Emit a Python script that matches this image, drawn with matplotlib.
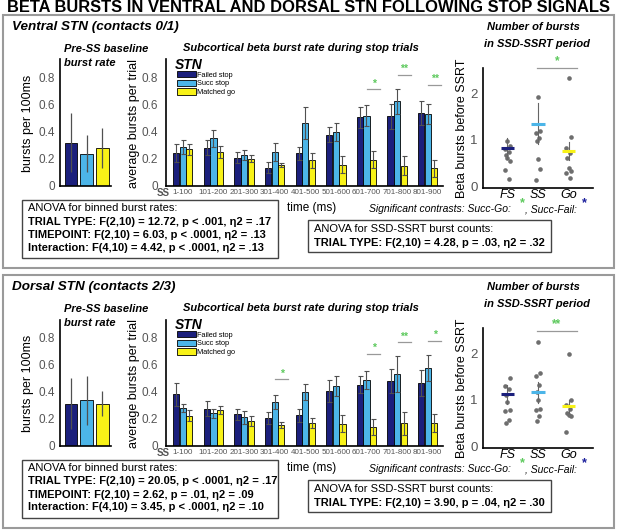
import numpy as np
import matplotlib.pyplot as plt
from matplotlib.patches import Rectangle, Patch

plt.rcParams['font.family'] = ['Liberation Sans', 'DejaVu Sans']

W, H = 617, 530

# ---- data ----
bins = ['1-100', '101-200', '201-300', '301-400', '401-500',
        '501-600', '601-700', '701-800', '801-900']
conds = ['Failed stop', 'Succ stop', 'Matched go']
cond_colors = ['#1b1f7c', '#4cb5e8', '#f8f217']
dot_labels = ['FS', 'SS', 'Go']

# ventral STN
v_base = [0.317, 0.234, 0.278]
v_base_err = [0.217, 0.136, 0.149]
v_fs = [0.243, 0.280, 0.206, 0.131, 0.238, 0.374, 0.503, 0.511, 0.538]
v_fs_err = [0.067, 0.057, 0.042, 0.040, 0.047, 0.055, 0.075, 0.092, 0.089]
v_ss = [0.285, 0.347, 0.223, 0.250, 0.461, 0.394, 0.516, 0.622, 0.528]
v_ss_err = [0.052, 0.063, 0.037, 0.067, 0.117, 0.067, 0.079, 0.092, 0.075]
v_go = [0.268, 0.248, 0.198, 0.151, 0.186, 0.154, 0.191, 0.146, 0.126]
v_go_err = [0.042, 0.042, 0.025, 0.018, 0.057, 0.062, 0.064, 0.070, 0.060]
v_sig_bins = [7, 8, 9]
v_sig_marks = ['*', '**', '**']
v_sig_y = [0.71, 0.818, 0.744]

v_dots_fs = [0.975, 0.87, 0.80, 0.75, 0.68, 0.62, 0.55, 0.36, 0.16]
v_dots_ss = [1.91, 1.19, 1.14, 1.04, 0.97, 0.59, 0.37, 0.14]
v_dots_go = [2.33, 1.06, 0.82, 0.71, 0.62, 0.40, 0.34, 0.30, 0.19]
v_dot_mean = [0.82, 1.35, 0.76]
v_dot_err = [0.23, 0.44, 0.19]
v_dot_sig = ('*', 2.55)

v_anova = ['TRIAL TYPE: F(2,10) = 12.72, p < .001, \u03b72 = .17',
           'TIMEPOINT: F(2,10) = 6.03, p < .0001, \u03b72 = .13',
           'Interaction: F(4,10) = 4.42, p < .0001, \u03b72 = .13']
v_anova2 = 'TRIAL TYPE: F(2,10) = 4.28, p = .03, \u03b72 = .32'

# dorsal STN
d_base = [0.31, 0.334, 0.31]
d_base_err = [0.19, 0.18, 0.095]
d_fs = [0.378, 0.273, 0.229, 0.202, 0.222, 0.405, 0.449, 0.476, 0.459]
d_fs_err = [0.086, 0.057, 0.039, 0.042, 0.046, 0.081, 0.061, 0.085, 0.095]
d_ss = [0.278, 0.237, 0.207, 0.322, 0.395, 0.437, 0.481, 0.530, 0.571]
d_ss_err = [0.032, 0.036, 0.049, 0.054, 0.056, 0.073, 0.066, 0.134, 0.098]
d_go = [0.220, 0.261, 0.180, 0.151, 0.166, 0.161, 0.137, 0.163, 0.166]
d_go_err = [0.039, 0.029, 0.037, 0.020, 0.039, 0.063, 0.056, 0.086, 0.066]
d_sig_bins = [4, 7, 8, 9]
d_sig_marks = ['*', '*', '**', '*']
d_sig_y = [0.488, 0.676, 0.761, 0.773]

d_dots_fs = [2.61, 1.46, 1.29, 1.23, 1.10, 0.96, 0.79, 0.77, 0.57, 0.50]
d_dots_ss = [2.25, 1.57, 1.51, 1.32, 1.17, 1.00, 0.80, 0.79, 0.66, 0.54]
d_dots_go = [1.98, 0.99, 0.90, 0.80, 0.72, 0.68, 0.66, 0.32]
d_dot_mean = [1.12, 1.16, 0.86]
d_dot_err = [0.20, 0.22, 0.14]
d_dot_sig = ('**', 2.48)

d_anova = ['TRIAL TYPE: F(2,10) = 20.05, p < .0001, \u03b72 = .17',
           'TIMEPOINT: F(2,10) = 2.62, p = .01, \u03b72 = .09',
           'Interaction: F(4,10) = 3.45, p < .0001, \u03b72 = .10']
d_anova2 = 'TRIAL TYPE: F(2,10) = 3.90, p = .04, \u03b72 = .30'

GREEN = '#5cc95c'
GRAY = '#505050'
TICKC = '#555555'

fig = plt.figure(figsize=(W / 100, H / 100), dpi=100)


def px_axes(x0, y0, x1, y1):
    return fig.add_axes([x0 / W, 1 - y1 / H, (x1 - x0) / W, (y1 - y0) / H])


def ftext(x, y, s, **kw):
    kw.setdefault('va', 'center')
    return fig.text(x / W, 1 - y / H, s, **kw)


def frect(x0, y0, x1, y1, **kw):
    fig.add_artist(Rectangle((x0 / W, 1 - y1 / H), (x1 - x0) / W, (y1 - y0) / H,
                             transform=fig.transFigure, fill=False, **kw))


def clean(ax):
    for s in ['top', 'right']:
        ax.spines[s].set_visible(False)
    for s in ['left', 'bottom']:
        ax.spines[s].set_linewidth(1.2)
    ax.tick_params(length=0, labelsize=8.5, labelcolor=TICKC)


def section(oy, name, base, base_err, fs, fs_err, ss, ss_err, go, go_err,
            sig_bins, sig_marks, sig_y, dots, dmean, derr, dsig, anova, anova2):
    frect(3, oy + 15, 614, oy + 268, edgecolor='#9a9a9a', lw=1.5)
    ftext(12, oy + 27, name, fontsize=9.7, fontweight='bold', style='italic')

    # baseline bars
    ax = px_axes(60, oy + 59.5, 111, oy + 185.5)
    xb = np.arange(1, 4)
    ax.bar(xb, base, width=0.82, color=cond_colors, edgecolor='k', lw=0.6)
    ax.errorbar(xb, base, yerr=base_err, fmt='none', ecolor=GRAY,
                elinewidth=0.9, capsize=0)
    ax.set_xlim(0.3, 3.55)
    ax.set_ylim(0, 0.93)
    ax.set_xticks([])
    ax.set_yticks([0, 0.2, 0.4, 0.6, 0.8], ['0', '0.2', '0.4', '0.6', '0.8'])
    clean(ax)
    ax.tick_params(axis='y', pad=3.5)
    ftext(28, oy + 123, 'bursts per 100ms', fontsize=9, rotation=90, ha='center')
    ftext(64, oy + 49, 'Pre-SS baseline', fontsize=8, fontweight='bold', style='italic')
    ftext(64, oy + 63, 'burst rate', fontsize=8, fontweight='bold', style='italic')

    # binned bars
    ax2 = px_axes(166, oy + 59.5, 443, oy + 185.5)
    x = np.arange(1, len(bins) + 1)
    for off, vals, errs, col in zip([-0.215, 0, 0.215], [fs, ss, go],
                                    [fs_err, ss_err, go_err], cond_colors):
        ax2.bar(x + off, vals, width=0.2, color=col, edgecolor='k', lw=0.6)
        ax2.errorbar(x + off, vals, yerr=errs, fmt='none', ecolor=GRAY,
                     elinewidth=0.8, capsize=1.8, capthick=0.8)
    for b, m, yy in zip(sig_bins, sig_marks, sig_y):
        ax2.plot([b + 0.02, b + 0.45], [yy, yy], color='#999999', lw=0.9)
        ax2.annotate(m, (b + 0.235, yy), xytext=(0, 0.5), textcoords='offset points',
                     ha='center', va='bottom', color=GREEN, fontsize=7.5,
                     fontweight='bold')
    ax2.set_xlim(0.45, 9.5)
    ax2.set_ylim(0, 0.93)
    ax2.set_xticks(x, bins)
    ax2.set_yticks([0, 0.2, 0.4, 0.6, 0.8], ['0', '0.2', '0.4', '0.6', '0.8'])
    clean(ax2)
    ax2.tick_params(axis='x', labelsize=5.8, labelcolor='#555', pad=2.5)
    ax2.tick_params(axis='y', pad=6)
    handles = [Patch(facecolor=c, edgecolor='k', lw=0.6) for c in cond_colors]
    ax2.legend(handles, conds, loc='upper left', bbox_to_anchor=(0.04, 0.91),
               frameon=False, fontsize=5.3, handlelength=2.6, handleheight=1.0,
               labelspacing=0.12, handletextpad=0.15, borderaxespad=0,
               borderpad=0)
    ftext(157, oy + 192.5, 'SS', fontsize=7, fontweight='bold', color='#555')
    ftext(175, oy + 65, 'STN', fontsize=10, fontweight='bold', style='italic')
    ftext(134, oy + 124, 'average bursts per trial', fontsize=9, rotation=90,
          ha='center')
    ftext(301, oy + 48, 'Subcortical beta burst rate during stop trials',
          fontsize=8, fontweight='bold', style='italic', ha='center')
    ftext(312, oy + 208, 'time (ms)', fontsize=8.5, ha='center')

    # dot plot
    ax3 = px_axes(483, oy + 68, 593, oy + 188)
    jit = [0, 0.07, -0.07, 0.035, -0.035]
    for i, (vals, m, e, col) in enumerate(zip(dots, dmean, derr, cond_colors)):
        xi = i + 1
        xs = [xi + jit[k % len(jit)] for k in range(len(vals))]
        ax3.scatter(xs, vals, s=11, color='#6e6e6e', zorder=2, lw=0)
        ax3.plot([xi, xi], [m - e, m + e], color='#666', lw=0.8, zorder=3)
        ax3.plot([xi - 0.22, xi + 0.22], [m, m], color=col, lw=2.2, zorder=4,
                 solid_capstyle='butt')
    mark, sy = dsig
    ax3.plot([1.97, 3.28], [sy, sy], color='#999999', lw=0.9, clip_on=False)
    ax3.annotate(mark, (2.62, sy), xytext=(0, 0.5), textcoords='offset points',
                 ha='center', va='bottom', color=GREEN, fontsize=8.5,
                 fontweight='bold', annotation_clip=False)
    ax3.set_xlim(0.2, 3.8)
    ax3.set_ylim(-0.03, 2.54)
    ax3.set_xticks([1, 2, 3], dot_labels)
    ax3.set_yticks([0, 1, 2])
    clean(ax3)
    ax3.tick_params(axis='x', labelsize=9, labelcolor='k', pad=1)
    ax3.tick_params(axis='y', labelsize=9.5, pad=4)
    for t in ax3.get_xticklabels():
        t.set_style('italic')
    ftext(462, oy + 128, 'Beta bursts before SSRT', fontsize=9, rotation=90,
          ha='center')
    ftext(487, oy + 27, 'Number of bursts', fontsize=8, fontweight='bold',
          style='italic')
    ftext(484, oy + 44, 'in SSD-SSRT period', fontsize=8, fontweight='bold',
          style='italic')

    # contrasts note
    yb = oy + 212
    ftext(369, yb, 'Significant contrasts: Succ-Go:', fontsize=7.5,
          style='italic', va='baseline')
    ftext(522, yb - 6, '*', fontsize=9, color=GREEN, fontweight='bold',
          ha='center', va='baseline')
    ftext(525, yb, ', Succ-Fail:', fontsize=7.5, style='italic', va='baseline')
    ftext(584, yb - 6, '*', fontsize=9, color='#1b1f9c', fontweight='bold',
          ha='center', va='baseline')

    # ANOVA boxes
    frect(22, oy + 200, 278, oy + 258, edgecolor='#444', lw=1)
    ftext(28, oy + 208, 'ANOVA for binned burst rates:', fontsize=8)
    for k, line in enumerate(anova):
        ftext(28, oy + 221.5 + 13 * k, line, fontsize=8, fontweight='bold')
    frect(308, oy + 220, 551, oy + 252, edgecolor='#444', lw=1)
    ftext(314, oy + 228.5, 'ANOVA for SSD-SSRT burst counts:', fontsize=8)
    ftext(314, oy + 242.5, anova2, fontsize=8, fontweight='bold')


ftext(308.5, 8, 'BETA BURSTS IN VENTRAL AND DORSAL STN FOLLOWING STOP SIGNALS',
      fontsize=11.9, fontweight='bold', ha='center')

section(0, 'Ventral STN (contacts 0/1)', v_base, v_base_err,
        v_fs, v_fs_err, v_ss, v_ss_err, v_go, v_go_err,
        v_sig_bins, v_sig_marks, v_sig_y,
        [v_dots_fs, v_dots_ss, v_dots_go], v_dot_mean, v_dot_err, v_dot_sig,
        v_anova, v_anova2)
section(260, 'Dorsal STN (contacts 2/3)', d_base, d_base_err,
        d_fs, d_fs_err, d_ss, d_ss_err, d_go, d_go_err,
        d_sig_bins, d_sig_marks, d_sig_y,
        [d_dots_fs, d_dots_ss, d_dots_go], d_dot_mean, d_dot_err, d_dot_sig,
        d_anova, d_anova2)

fig.savefig('out.png', dpi=100)
